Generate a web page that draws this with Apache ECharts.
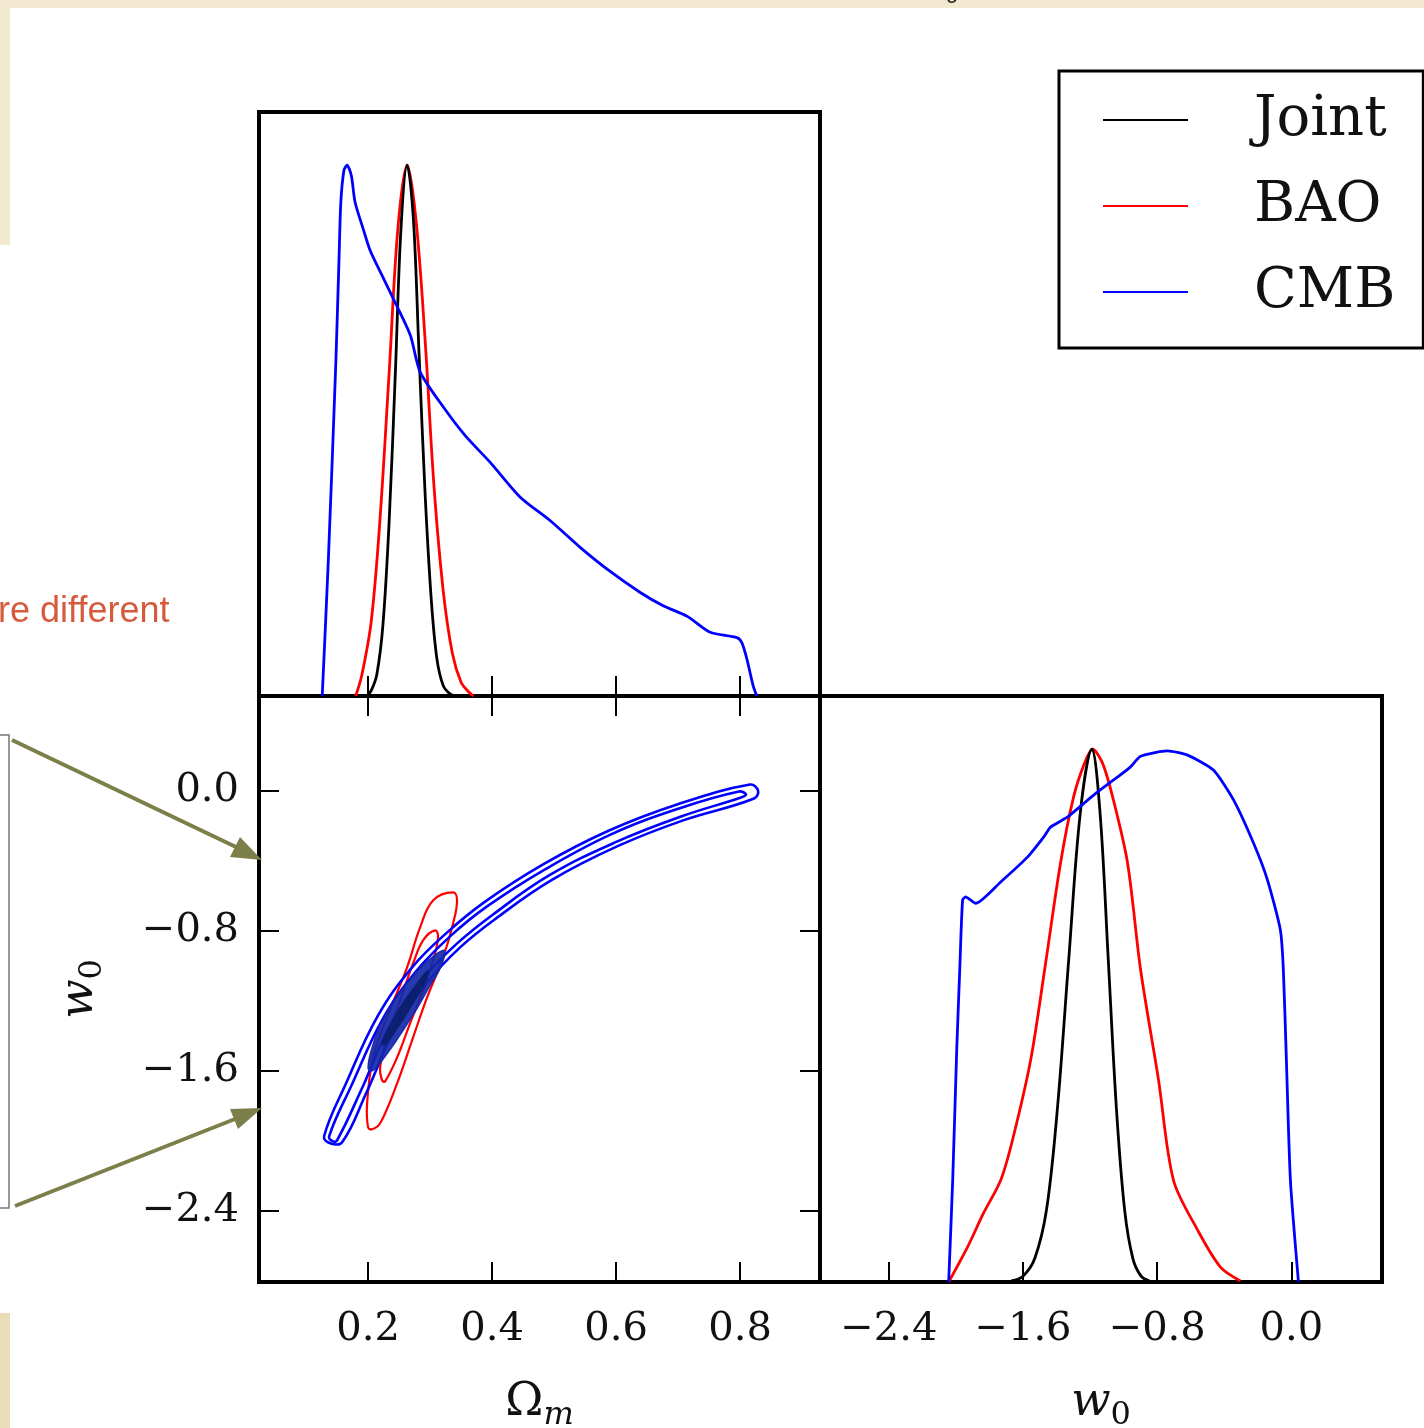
<!DOCTYPE html>
<html>
<head>
<meta charset="utf-8">
<script src="https://cdn.jsdelivr.net/npm/echarts@6.0.0/dist/echarts.min.js"></script>
<style>
  html, body { margin: 0; padding: 0; background: #fff; }
  #chart { width: 1424px; height: 1428px; }
</style>
</head>
<body>
<div id="chart"></div>
<script>
// ---- tick positions ----
const omegaTicks = [0.2, 0.4, 0.6, 0.8];
const w0Ticks = [-2.4, -1.6, -0.8, 0.0];

// ---- 1D marginal of Omega_m (peak-normalised) : [Omega_m, P] ----
const omegaJoint = [[0.198,0],[0.205,0.01],[0.214,0.04],[0.224,0.135],[0.234,0.33],[0.244,0.61],[0.253,0.88],[0.263,1.0],[0.273,0.90],[0.282,0.65],[0.292,0.38],[0.302,0.18],[0.311,0.07],[0.321,0.02],[0.331,0.005],[0.340,0]];
const omegaBao = [[0.180,0],[0.190,0.04],[0.205,0.14],[0.219,0.33],[0.234,0.61],[0.248,0.88],[0.263,1.0],[0.277,0.90],[0.292,0.67],[0.306,0.40],[0.321,0.20],[0.336,0.08],[0.350,0.026],[0.362,0.008],[0.370,0]];
const omegaCmb = [[0.126,0],[0.136,0.26],[0.148,0.63],[0.153,0.82],[0.156,0.93],[0.161,0.99],[0.166,1.0],[0.173,0.98],[0.179,0.93],[0.192,0.88],[0.203,0.84],[0.215,0.81],[0.240,0.75],[0.268,0.68],[0.284,0.61],[0.324,0.54],[0.357,0.49],[0.397,0.44],[0.445,0.375],[0.494,0.33],[0.542,0.28],[0.590,0.235],[0.639,0.195],[0.676,0.17],[0.715,0.15],[0.752,0.12],[0.795,0.11],[0.803,0.10],[0.811,0.07],[0.821,0.02],[0.827,0]];

// ---- 1D marginal of w0 (peak-normalised) : [w0, P] ----
const w0Joint = [[-1.67,0.002],[-1.60,0.011],[-1.53,0.044],[-1.46,0.135],[-1.395,0.325],[-1.327,0.607],[-1.258,0.882],[-1.19,1.0],[-1.141,0.882],[-1.092,0.607],[-1.043,0.325],[-0.994,0.135],[-0.945,0.044],[-0.896,0.011],[-0.847,0.002]];
const w0Bao = [[-2.043,0],[-1.930,0.066],[-1.834,0.130],[-1.733,0.191],[-1.662,0.267],[-1.554,0.417],[-1.471,0.586],[-1.376,0.787],[-1.298,0.911],[-1.233,0.974],[-1.185,1.0],[-1.126,0.974],[-1.066,0.911],[-0.977,0.787],[-0.899,0.586],[-0.792,0.379],[-0.703,0.191],[-0.560,0.098],[-0.423,0.028],[-0.304,0.002]];
const w0Cmb = [[-2.043,0],[-2.019,0.191],[-1.995,0.436],[-1.977,0.586],[-1.960,0.717],[-1.942,0.723],[-1.882,0.711],[-1.733,0.751],[-1.572,0.798],[-1.477,0.835],[-1.435,0.854],[-1.334,0.873],[-1.179,0.914],[-1.036,0.948],[-0.959,0.967],[-0.899,0.987],[-0.739,0.997],[-0.619,0.989],[-0.465,0.961],[-0.345,0.905],[-0.226,0.824],[-0.143,0.755],[-0.066,0.661],[-0.048,0.586],[-0.030,0.417],[-0.006,0.191],[0.042,0]];

// ---- 2D credible contours in (Omega_m, w0) ----
const baoContour95 = [[0.3371,-0.583],[0.3048,-0.629],[0.2839,-0.783],[0.2629,-1.011],[0.2306,-1.297],[0.2081,-1.526],[0.1984,-1.789],[0.2000,-1.926],[0.2065,-1.937],[0.2194,-1.903],[0.2468,-1.674],[0.2726,-1.411],[0.2952,-1.183],[0.3210,-0.954],[0.3371,-0.760],[0.3435,-0.629]];
const baoContour68 = [[0.3081,-0.800],[0.2887,-0.857],[0.2726,-0.989],[0.2516,-1.200],[0.2306,-1.411],[0.2194,-1.583],[0.2226,-1.657],[0.2274,-1.663],[0.2468,-1.526],[0.2677,-1.331],[0.2887,-1.143],[0.3048,-0.971],[0.3129,-0.840]];
const cmbContour95 = [[0.129,-1.977],[0.1645,-1.674],[0.2161,-1.286],[0.2710,-1.011],[0.3258,-0.817],[0.3871,-0.640],[0.4823,-0.423],[0.5887,-0.229],[0.6984,-0.080],[0.8161,0.034],[0.8290,0.0],[0.8226,-0.046],[0.7081,-0.171],[0.6016,-0.320],[0.4952,-0.514],[0.4065,-0.731],[0.3484,-0.897],[0.2968,-1.091],[0.2452,-1.349],[0.1968,-1.731],[0.1581,-2.011],[0.1387,-2.017]];
const cmbContour68 = [[0.1371,-1.977],[0.1726,-1.691],[0.2242,-1.303],[0.2774,-1.034],[0.3323,-0.834],[0.3919,-0.663],[0.4855,-0.451],[0.5919,-0.251],[0.7016,-0.103],[0.7984,-0.006],[0.8097,-0.023],[0.8016,-0.040],[0.7048,-0.149],[0.5984,-0.297],[0.4919,-0.486],[0.4016,-0.709],[0.3419,-0.880],[0.2903,-1.069],[0.2371,-1.331],[0.1887,-1.714],[0.1500,-2.000],[0.1435,-2.006]];
const jointContour95 = [[0.2000,-1.589],[0.2065,-1.469],[0.2194,-1.343],[0.2403,-1.211],[0.2661,-1.086],[0.2935,-0.983],[0.3226,-0.914],[0.3177,-1.006],[0.3000,-1.114],[0.2790,-1.246],[0.2565,-1.371],[0.2323,-1.497],[0.2081,-1.600]];
const jointContour68 = [[0.2226,-1.451],[0.2339,-1.354],[0.2532,-1.234],[0.2758,-1.120],[0.2968,-1.029],[0.2903,-1.109],[0.2710,-1.223],[0.2500,-1.343],[0.2290,-1.446]];

// ---- axis ranges ----
const omegaRange = [0.024, 0.929];
const w0Range = [-2.81, 0.54];
const pdfRange = [0, 1.1];

const SERIF = "'DejaVu Serif', serif";
const BLACK = '#000000', RED = '#ff0000', BLUE = '#0000ff';

function fmt(v) {
  if (Math.abs(v) < 1e-9) return '0.0';
  return (v < 0 ? '\u2212' : '') + Math.abs(v).toFixed(1);
}

const tickStyle = { show: true, inside: true, length: 20, lineStyle: { color: '#000', width: 2 } };

function tickAxis(gridIndex, range, ticks, position, labelMargin, extra) {
  return Object.assign({
    type: 'value', gridIndex, position, min: range[0], max: range[1],
    axisLine: { show: false, onZero: false },
    axisTick: Object.assign({ customValues: ticks }, tickStyle),
    axisLabel: labelMargin ? {
      show: true, customValues: ticks, formatter: fmt, margin: labelMargin,
      fontFamily: SERIF, fontSize: 40, color: '#111'
    } : { show: false },
    splitLine: { show: false }
  }, extra || {});
}

function contourSeries(name, loops, color, lineWidth) {
  return {
    type: 'custom', name, xAxisIndex: 1, yAxisIndex: 1,
    coordinateSystem: 'cartesian2d',
    data: loops.map(function (l) { return l[0]; }),
    renderItem: function (params, api) {
      const pts = loops[params.dataIndex].map(function (p) { return api.coord(p); });
      return { type: 'polygon', shape: { points: pts, smooth: 0.4 },
               style: { fill: 'none', stroke: color, lineWidth: lineWidth } };
    },
    silent: true
  };
}

function filledSeries(name, loops, fills) {
  return {
    type: 'custom', name, xAxisIndex: 1, yAxisIndex: 1,
    coordinateSystem: 'cartesian2d',
    data: loops.map(function (l) { return l[0]; }),
    renderItem: function (params, api) {
      const pts = loops[params.dataIndex].map(function (p) { return api.coord(p); });
      return { type: 'polygon', shape: { points: pts, smooth: 0.4 },
               style: { fill: fills[params.dataIndex], stroke: fills[params.dataIndex], lineWidth: 1.5 } };
    },
    silent: true
  };
}

function lineSeries(name, data, color, xi, yi, smooth) {
  return {
    type: 'line', name, data, xAxisIndex: xi, yAxisIndex: yi,
    symbol: 'none', smooth: smooth,
    lineStyle: { color, width: 2.8 }, itemStyle: { color },
    z: 3, silent: true
  };
}

const nameRich = (first, firstItalic) => ({
  a: { fontFamily: SERIF, fontStyle: firstItalic ? 'italic' : 'normal', fontSize: 46, color: '#111' },
  b: { fontFamily: SERIF, fontStyle: firstItalic ? 'normal' : 'italic', fontSize: 32, color: '#111', padding: [26, 0, 0, 0] }
});

const chart = echarts.init(document.getElementById('chart'), null, { renderer: 'canvas' });

const option = {
  backgroundColor: '#ffffff',
  animation: false,
  grid: [
    { left: 259, top: 112, width: 561, height: 584, show: true, borderColor: '#000', borderWidth: 4, outerBoundsMode: 'none' },
    { left: 259, top: 696, width: 561, height: 586, show: true, borderColor: '#000', borderWidth: 4, outerBoundsMode: 'none' },
    { left: 820, top: 696, width: 562, height: 586, show: true, borderColor: '#000', borderWidth: 4, outerBoundsMode: 'none' }
  ],
  xAxis: [
    tickAxis(0, omegaRange, omegaTicks, 'bottom', 0),
    tickAxis(1, omegaRange, omegaTicks, 'bottom', 28, {
      name: '{a|\u03a9}{b|m}', nameLocation: 'middle', nameGap: 92,
      nameTextStyle: { rich: nameRich('\u03a9', false) }
    }),
    tickAxis(1, omegaRange, omegaTicks, 'top', 0),
    tickAxis(2, w0Range, w0Ticks, 'bottom', 28, {
      name: '{a|w}{b|0}', nameLocation: 'middle', nameGap: 92,
      nameTextStyle: { rich: nameRich('w', true) }
    })
  ],
  yAxis: [
    { type: 'value', gridIndex: 0, min: pdfRange[0], max: pdfRange[1], show: false },
    tickAxis(1, w0Range, w0Ticks, 'left', 20, {
      name: '{a|w}{b|0}', nameLocation: 'middle', nameGap: 150, nameRotate: 90,
      nameTextStyle: { rich: nameRich('w', true) }
    }),
    tickAxis(1, w0Range, w0Ticks, 'right', 0),
    { type: 'value', gridIndex: 2, min: pdfRange[0], max: pdfRange[1], show: false }
  ],
  legend: {
    data: ['Joint', 'BAO', 'CMB'],
    orient: 'vertical', left: 1059, top: 71,
    padding: [19, 28, 26, 43],
    itemWidth: 85, itemHeight: 2, itemGap: 26,
    borderColor: '#000', borderWidth: 3, backgroundColor: '#fff',
    lineStyle: { width: 2 },
    selectedMode: false,
    textStyle: { fontFamily: SERIF, fontSize: 56, color: '#111', lineHeight: 60, padding: [0, 0, 0, 61] }
  },
  series: [
    // Omega_m marginals
    lineSeries('BAO', omegaBao, RED, 0, 0, 0.35),
    lineSeries('Joint', omegaJoint, BLACK, 0, 0, 0.35),
    lineSeries('CMB', omegaCmb, BLUE, 0, 0, 0.25),
    // w0 marginals
    lineSeries('BAO', w0Bao, RED, 3, 3, 0.3),
    lineSeries('Joint', w0Joint, BLACK, 3, 3, 0.35),
    lineSeries('CMB', w0Cmb, BLUE, 3, 3, 0.2),
    // joint 2D plane
    contourSeries('BAO', [baoContour95, baoContour68], RED, 2.2),
    contourSeries('CMB', [cmbContour95, cmbContour68], BLUE, 2.6),
    filledSeries('Joint', [jointContour95, jointContour68], ['rgba(20,40,170,0.92)', '#0d2070'])
  ],
  graphic: [
    // slide background around the figure
    { type: 'rect', shape: { x: 0, y: 0, width: 1424, height: 8 }, style: { fill: '#f2e9d0' }, silent: true },
    { type: 'rect', shape: { x: 0, y: 0, width: 10, height: 245 }, style: { fill: '#f2e9d0' }, silent: true },
    { type: 'rect', shape: { x: 0, y: 1313, width: 10, height: 115 }, style: { fill: '#e9ddb8' }, silent: true },
    { type: 'text', x: 946, y: -19, style: { text: 'g', fontFamily: 'Liberation Sans, sans-serif', fontSize: 22, fill: '#222' }, silent: true },
    // annotation text and box from the slide
    { type: 'text', x: -2, y: 594, style: { text: 're different', fontFamily: "'Liberation Sans', Arial, sans-serif", fontSize: 36, fill: '#d65a3c' }, silent: true },
    { type: 'rect', shape: { x: -20, y: 735, width: 29, height: 473 }, style: { fill: 'none', stroke: '#777', lineWidth: 1.5 }, silent: true },
    // arrows pointing at the w0 axis
    { type: 'line', shape: { x1: 12, y1: 740, x2: 236, y2: 847 }, style: { stroke: '#7c7f4a', lineWidth: 4 }, silent: true },
    { type: 'polygon', shape: { points: [[262, 860], [230, 857], [240, 837]] }, style: { fill: '#7c7f4a' }, silent: true },
    { type: 'line', shape: { x1: 15, y1: 1206, x2: 235, y2: 1119 }, style: { stroke: '#7c7f4a', lineWidth: 4 }, silent: true },
    { type: 'polygon', shape: { points: [[262, 1108], [238, 1129], [230, 1109]] }, style: { fill: '#7c7f4a' }, silent: true }
  ]
};

chart.setOption(option);
</script>
</body>
</html>
